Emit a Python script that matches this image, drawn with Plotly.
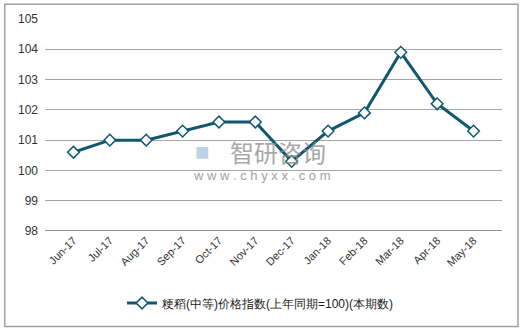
import plotly.graph_objects as go

categories = ["Jun-17", "Jul-17", "Aug-17", "Sep-17", "Oct-17", "Nov-17",
              "Dec-17", "Jan-18", "Feb-18", "Mar-18", "Apr-18", "May-18"]
values = [100.6, 101.0, 101.0, 101.3, 101.6, 101.6, 100.3, 101.3, 101.9, 103.9, 102.2, 101.3]
series_name = "粳稻(中等)价格指数(上年同期=100)(本期数)"
y_ticks = [98, 99, 100, 101, 102, 103, 104, 105]

line_color = "#0F5870"
font_family = "Liberation Sans, Arial, sans-serif"

fig = go.Figure()
fig.add_trace(go.Scatter(
    x=categories, y=values, name=series_name, mode="lines+markers",
    line=dict(color=line_color, width=3),
    marker=dict(symbol="diamond", size=9, color="white",
                line=dict(color=line_color, width=1.5)),
))

fig.update_layout(
    width=521, height=329,
    margin=dict(l=45, r=19, t=19, b=98, autoexpand=False),
    paper_bgcolor="white", plot_bgcolor="white",
    font=dict(family=font_family, size=12, color="#333333"),
    showlegend=True,
    legend=dict(orientation="h", x=0.5, xanchor="center", y=0.079, yanchor="middle",
                yref="container", xref="container",
                font=dict(size=12, color="#222222"), bgcolor="rgba(0,0,0,0)"),
    xaxis=dict(type="category", tickangle=-45, showgrid=False, ticks="",
               tickfont=dict(size=11, color="#333333"), showline=False, automargin=False),
    yaxis=dict(range=[98, 105], tickvals=y_ticks, showgrid=True, gridcolor="#A6A6A6",
               gridwidth=1, zeroline=False, ticks="", showline=False, automargin=False,
               tickfont=dict(size=12, color="#333333"), ticklabelstandoff=6),
    shapes=[
        dict(type="rect", xref="paper", yref="paper", x0=-0.088, x1=1.035, y0=-0.45, y1=1.07,
             line=dict(color="#A0A0A0", width=1.5), layer="below"),
        dict(type="line", xref="paper", yref="y", x0=0, x1=1, y0=98, y1=98,
             line=dict(color="#707070", width=1.5)),
    ],
    annotations=[
        dict(text="智研咨询", xref="paper", yref="paper", x=0.51, y=0.373, showarrow=False,
             font=dict(size=24, color="#8A8A8A", family="Noto Sans CJK SC"), opacity=0.75,
             xanchor="center", yanchor="middle"),
        dict(text="■", xref="paper", yref="paper", x=0.345, y=0.373, showarrow=False,
             font=dict(size=24, color="#A8C4E0"), opacity=0.75, xanchor="center",
             yanchor="middle"),
        dict(text="w w w . c h y x x . c o m", xref="paper", yref="paper", x=0.475, y=0.26,
             showarrow=False, font=dict(size=13, color="#8A8A8A"), opacity=0.8,
             xanchor="center", yanchor="middle"),
    ],
)

fig.write_html("out.html")
